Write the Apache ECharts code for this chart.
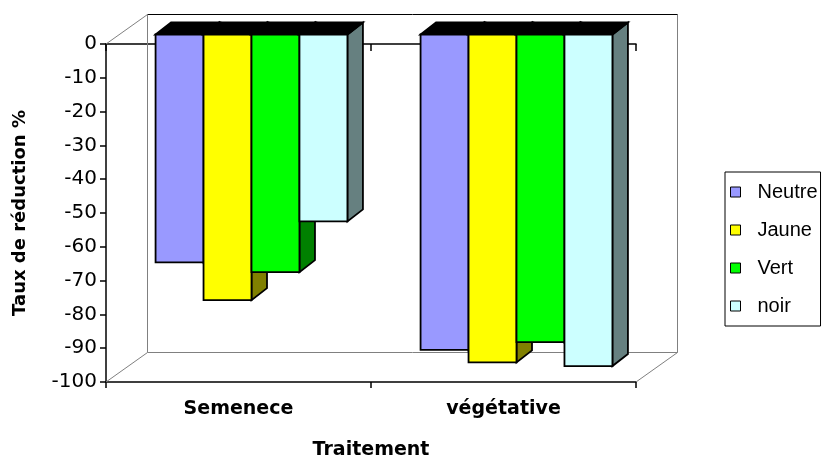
<!DOCTYPE html>
<html>
<head>
<meta charset="utf-8">
<script src="https://cdn.jsdelivr.net/npm/echarts@6/dist/echarts.min.js"></script>
<style>
  html, body { margin: 0; padding: 0; background: #fff; }
  #chart { width: 822px; height: 457px; }
</style>
</head>
<body>
<div id="chart"></div>
<script>
// Treatment groups on the category axis
const categories = ['Semenece', 'végétative'];

// Reduction rate (%) for each colour of filter
const neutre = [-67.4, -93.3];
const jaune  = [-78.6, -97.0];
const vert   = [-70.3, -91.0];
const noir   = [-55.3, -98.1];

const seriesNames = ['Neutre', 'Jaune', 'Vert', 'noir'];
const seriesValues = [neutre, jaune, vert, noir];

// Front face colours and the darker side-face shades
const faceColors = ['#9999FF', '#FFFF00', '#00FF00', '#CCFFFF'];
const sideColors = ['#4D4D80', '#808000', '#008000', '#668080'];

// Oblique projection settings (pixels)
const WALL_DX = 41.5, WALL_DY = -29.5;   // depth of the whole plot box
const FRONT_DX = 13, FRONT_DY = -9.5;    // where the bar fronts sit in depth
const BAR_DX = 15.5, BAR_DY = -12;       // depth of each bar
const BAR_FRAC = 0.181;                  // bar width as a share of a category band

const FONT = 'DejaVu Sans';
const LEGEND_FONT = 'Liberation Sans';

function barRenderer(params, api) {
  const s = params.seriesIndex - 1;
  const cat = api.value(0);
  const v = api.value(1);
  const band = api.size([1, 0])[0];
  const p0 = api.coord([cat, 0]);
  const p1 = api.coord([cat, v]);
  const barW = band * BAR_FRAC;
  const groupW = barW * seriesValues.length;
  const x0 = p0[0] - groupW / 2 + s * barW + FRONT_DX;
  const x1 = x0 + barW;
  const yTop = p0[1] + FRONT_DY;
  const yBot = p1[1] + FRONT_DY;
  const stroke = { stroke: '#000', lineWidth: 1.8, lineJoin: 'miter' };
  return {
    type: 'group',
    children: [
      {
        type: 'polygon',
        shape: { points: [[x1, yTop], [x1 + BAR_DX, yTop + BAR_DY], [x1 + BAR_DX, yBot + BAR_DY], [x1, yBot]] },
        style: Object.assign({ fill: sideColors[s] }, stroke)
      },
      {
        type: 'polygon',
        shape: { points: [[x0, yTop], [x0 + BAR_DX, yTop + BAR_DY], [x1 + BAR_DX, yTop + BAR_DY], [x1, yTop]] },
        style: Object.assign({ fill: '#000' }, stroke)
      },
      {
        type: 'rect',
        shape: { x: x0, y: yTop, width: barW, height: yBot - yTop },
        style: Object.assign({ fill: faceColors[s] }, stroke)
      }
    ]
  };
}

// Back wall, floor and depth edges of the plot box
function frameRenderer(params, api) {
  const band = api.size([1, 0])[0];
  const left = api.coord([0, 0])[0] - band / 2;
  const right = api.coord([categories.length - 1, 0])[0] + band / 2;
  const top = api.coord([0, 0])[1];
  const bottom = api.coord([0, -100])[1];
  const grey = { stroke: '#808080', lineWidth: 1, fill: null };
  const L = left + WALL_DX, R = right + WALL_DX, T = top + WALL_DY, B = bottom + WALL_DY;
  return {
    type: 'group',
    children: [
      { type: 'polyline', shape: { points: [[L, B], [L, T]] }, style: grey },
      { type: 'polyline', shape: { points: [[R, T], [R, B], [L, B]] }, style: grey },
      { type: 'line', shape: { x1: L, y1: T, x2: R, y2: T }, style: { stroke: '#000', lineWidth: 1 } },
      { type: 'line', shape: { x1: left, y1: top, x2: L, y2: T }, style: grey },
      { type: 'line', shape: { x1: left, y1: bottom, x2: L, y2: B }, style: grey },
      { type: 'line', shape: { x1: right, y1: bottom, x2: R, y2: B }, style: grey }
    ]
  };
}

const series = [{
  type: 'custom',
  name: 'frame',
  silent: true,
  z: 1,
  renderItem: frameRenderer,
  data: [[0, 0]]
}];
seriesNames.forEach((name, i) => {
  series.push({
    type: 'custom',
    name: name,
    z: 2,
    itemStyle: { color: faceColors[i] },
    renderItem: barRenderer,
    data: seriesValues[i].map((v, k) => [k, v])
  });
});

const chart = echarts.init(document.getElementById('chart'), null, { renderer: 'canvas' });
chart.setOption({
  animation: false,
  backgroundColor: '#fff',
  textStyle: { fontFamily: FONT },
  grid: { left: 106, top: 44, width: 530, height: 338, outerBoundsMode: 'none', containLabel: false },
  xAxis: [
    {
      type: 'category',
      data: categories,
      position: 'bottom',
      boundaryGap: true,
      axisLine: { show: true, onZero: false, lineStyle: { color: '#000', width: 1.5 } },
      axisTick: { show: true, length: 6, lineStyle: { color: '#000', width: 1.5 } },
      axisLabel: { color: '#000', fontFamily: FONT, fontSize: 19, fontWeight: 'bold', margin: 18 },
      name: 'Traitement',
      nameLocation: 'middle',
      nameGap: 59,
      nameTextStyle: { color: '#000', fontFamily: FONT, fontSize: 19, fontWeight: 'bold' }
    },
    {
      type: 'category',
      data: categories,
      position: 'top',
      boundaryGap: true,
      axisLine: { show: true, onZero: false, lineStyle: { color: '#000', width: 1.5 } },
      axisTick: { show: true, inside: true, length: 7, lineStyle: { color: '#000', width: 1.5 } },
      axisLabel: { show: false }
    }
  ],
  yAxis: {
    type: 'value',
    min: -100,
    max: 0,
    interval: 10,
    axisLine: { show: true, onZero: false, lineStyle: { color: '#000', width: 1.5 } },
    axisTick: { show: true, length: 6, lineStyle: { color: '#000', width: 1.5 } },
    splitLine: { show: false },
    axisLabel: { color: '#000', fontFamily: FONT, fontSize: 20, margin: 9 },
    name: 'Taux de réduction %',
    nameLocation: 'middle',
    nameRotate: 90,
    nameGap: 77,
    nameTextStyle: { color: '#000', fontFamily: FONT, fontSize: 18, fontWeight: 'bold' }
  },
  legend: {
    data: seriesNames,
    orient: 'vertical',
    left: 725,
    top: 172,
    icon: 'rect',
    itemWidth: 10,
    itemHeight: 10,
    itemGap: 16,
    padding: [9, 3, 9, 5],
    borderColor: '#000',
    borderWidth: 1,
    backgroundColor: '#fff',
    itemStyle: { borderColor: '#000', borderWidth: 1 },
    textStyle: { color: '#000', fontFamily: LEGEND_FONT, fontSize: 20, lineHeight: 22, padding: [0, 0, 0, 12] }
  },
  series: series
});
</script>
</body>
</html>
